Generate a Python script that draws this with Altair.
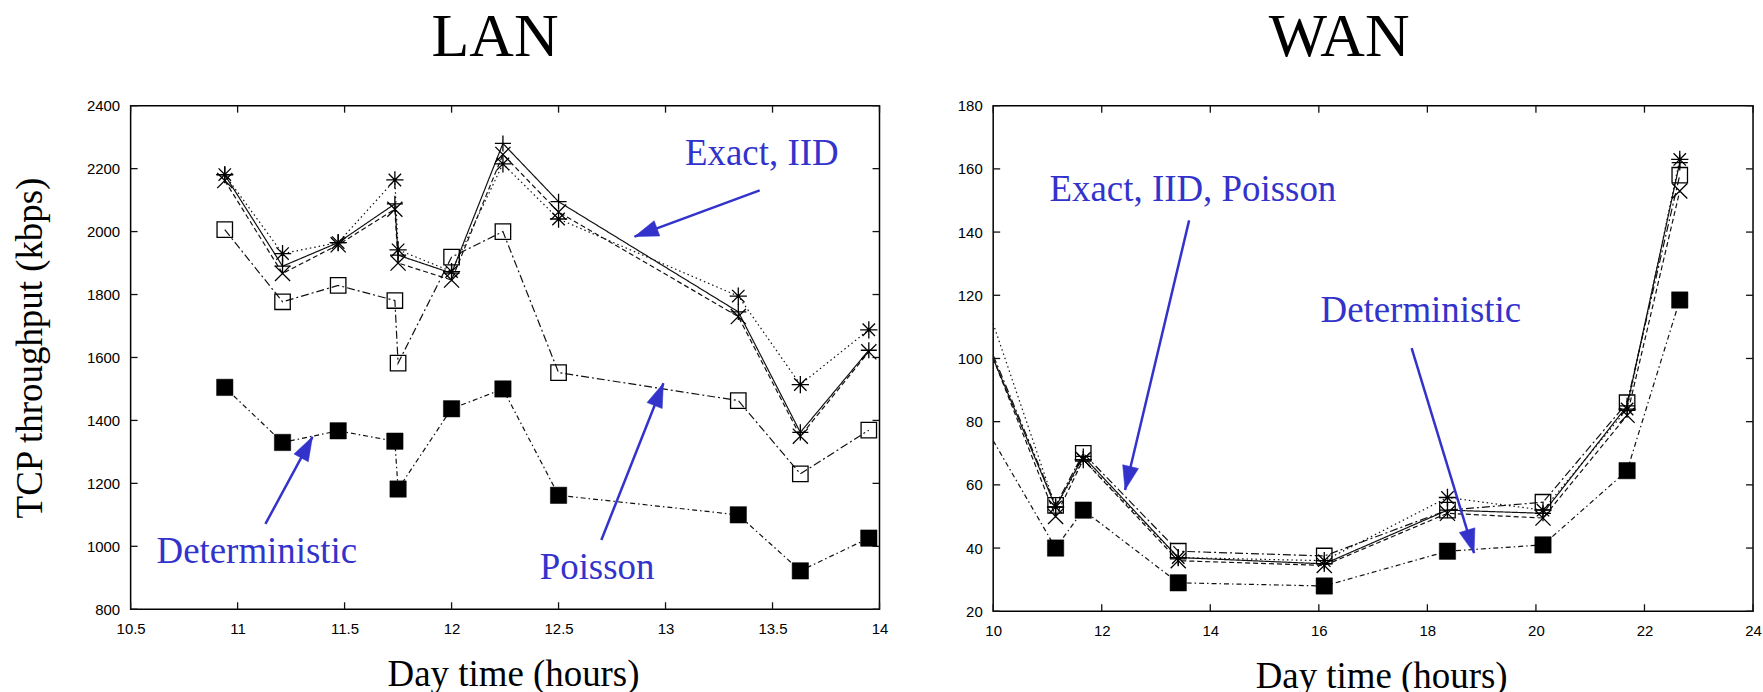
import math
import altair as alt
import pandas as pd

# ---------------- data ----------------
LAN_X = [10.94, 11.21, 11.47, 11.735, 11.75, 12.0, 12.24, 12.5, 13.34, 13.63, 13.95]
LAN_ASTERISK = [2181, 1930, 1965, 2164, 1942, 1873, 2215, 2040, 1795, 1514, 1688]
LAN_PLUS = [2180, 1890, 1965, 2088, 1925, 1868, 2280, 2095, 1745, 1362, 1623]
LAN_CROSS = [2162, 1867, 1958, 2071, 1900, 1846, 2245, 2062, 1730, 1350, 1618]
LAN_POISSON = [2006, 1777, 1829, 1781, 1582, 1919, 2000, 1552, 1463, 1230, 1369]
LAN_DETERMINISTIC = [1505, 1330, 1367, 1334, 1182, 1437, 1500, 1162, 1100, 922, 1026]

WAN_X = [10, 11.15, 11.66, 13.41, 16.1, 18.37, 20.13, 21.68, 22.65]
WAN_ASTERISK = [111, 53, 68, 37, 36, 56, 52, 84, 163]
WAN_PLUS = [100, 53, 69, 37, 35, 52, 51, 85, 162]
WAN_CROSS = [100, 50, 68, 36, 34.5, 51, 49.5, 82, 153]
WAN_POISSON = [101, 53.5, 70, 39, 37.5, 52, 54.5, 86, 158]
WAN_DETERMINISTIC = [74, 40, 52, 29, 28, 39, 41, 64.5, 118.5]

LAN_XTICKS = [10.5, 11, 11.5, 12, 12.5, 13, 13.5, 14]
LAN_YTICKS = [800, 1000, 1200, 1400, 1600, 1800, 2000, 2200, 2400]
WAN_XTICKS = [10, 12, 14, 16, 18, 20, 22, 24]
WAN_YTICKS = [20, 40, 60, 80, 100, 120, 140, 160, 180]

LAN_NOTE_TEXT = ["Exact, IID", "Poisson", "Deterministic"]
LAN_NOTE_X = [13.45, 12.68, 11.09]
LAN_NOTE_Y = [2212, 896, 947]
LAN_ARROW_X0 = [13.44, 12.70, 11.13]
LAN_ARROW_Y0 = [2131, 1020, 1071]
LAN_ARROW_X1 = [12.855, 12.99, 11.35]
LAN_ARROW_Y1 = [1984, 1518, 1348]

WAN_NOTE_TEXT = ["Exact, IID, Poisson", "Deterministic"]
WAN_NOTE_X = [13.68, 17.88]
WAN_NOTE_Y = [149.8, 111.4]
WAN_ARROW_X0 = [13.61, 17.71]
WAN_ARROW_Y0 = [143.7, 103.3]
WAN_ARROW_X1 = [12.43, 18.86]
WAN_ARROW_Y1 = [58.4, 38.4]

# ---------------- styles ----------------
BLUE = "#3333cc"
INK = "#111111"
SERIF = "Liberation Serif"
SANS = "Liberation Sans"
PLUS_PATH = "M-1,0L1,0M0,-1L0,1"
CROSS_PATH = "M-1,-1L1,1M-1,1L1,-1"
AST_PATH = "M-1,0L1,0M0,-1L0,1M-0.72,-0.72L0.72,0.72M-0.72,0.72L0.72,-0.72"
SQUARE_PATH = "M-1,-1L1,-1L1,1L-1,1Z"
HEAD_PATH = "M0,0L-0.34,1L0.34,1Z"

STYLE = {
    "asterisk": dict(dash=[1.5, 3], shape=AST_PATH, size=300, filled=False),
    "plus": dict(dash=[1, 0], shape=PLUS_PATH, size=260, filled=False),
    "cross": dict(dash=[5, 3], shape=CROSS_PATH, size=230, filled=False),
    "poisson": dict(dash=[8, 3, 2, 3], shape=SQUARE_PATH, size=240, filled=False),
    "deterministic": dict(dash=[5, 3, 1.5, 3], shape="square", size=270, filled=True),
}

WL, HL = 751, 505
WR, HR = 762, 507


def panel(title, title_dx, xs, series, xdom, ydom, xticks, yticks, xfmt, W, H, notes, arrows, ytitle):
    xaxis = alt.Axis(values=xticks, format=xfmt, domain=False, ticks=False, grid=False,
                     labelFont=SANS, labelFontSize=15, labelColor="black", labelPadding=12,
                     labelFlush=False, labelOverlap=False,
                     title="Day time (hours)", titleFont=SERIF, titleFontSize=37,
                     titleFontWeight="normal", titleColor="black", titlePadding=20,
                     titleX=W / 2 + 8)
    yaxis_kw = dict(values=yticks, format="d", domain=False, ticks=False, grid=False,
                    labelFont=SANS, labelFontSize=15, labelColor="black", labelPadding=11,
                    labelFlush=False, labelOverlap=False)
    if ytitle:
        yaxis = alt.Axis(title=ytitle, titleFont=SERIF, titleFontSize=37,
                         titleFontWeight="normal", titleColor="black", titlePadding=37,
                         titleY=H / 2 - 10, **yaxis_kw)
    else:
        yaxis = alt.Axis(title=None, **yaxis_kw)
    X = lambda f="x": alt.X(f"{f}:Q", scale=alt.Scale(domain=xdom, nice=False, zero=False), axis=xaxis)
    Y = lambda f="y": alt.Y(f"{f}:Q", scale=alt.Scale(domain=ydom, nice=False, zero=False), axis=yaxis)

    layers = []
    # inward tick marks on all four sides
    ydf = pd.DataFrame({"y": yticks})
    xdf = pd.DataFrame({"x": xticks})
    tk = 7
    layers.append(alt.Chart(ydf).mark_rule(color=INK, strokeWidth=1.3).encode(y=Y(), x=alt.value(0), x2=alt.value(tk)))
    layers.append(alt.Chart(ydf).mark_rule(color=INK, strokeWidth=1.3).encode(y=Y(), x=alt.value(W - tk), x2=alt.value(W)))
    layers.append(alt.Chart(xdf).mark_rule(color=INK, strokeWidth=1.3).encode(x=X(), y=alt.value(H - tk), y2=alt.value(H)))
    layers.append(alt.Chart(xdf).mark_rule(color=INK, strokeWidth=1.3).encode(x=X(), y=alt.value(0), y2=alt.value(tk)))

    for name, vals in series:
        st = STYLE[name]
        df = pd.DataFrame({"x": xs, "y": vals})
        layers.append(alt.Chart(df).mark_line(color=INK, strokeWidth=1.2, strokeDash=st["dash"]).encode(x=X(), y=Y()))
    for name, vals in series:
        st = STYLE[name]
        df = pd.DataFrame({"x": xs, "y": vals})
        df = df[df["x"] > xdom[0]]
        if st["filled"]:
            m = alt.Chart(df).mark_point(shape=st["shape"], filled=True, fill="black", stroke="black",
                                         strokeWidth=0.5, size=st["size"], opacity=1)
        else:
            m = alt.Chart(df).mark_point(shape=st["shape"], filled=False, stroke="black",
                                         strokeWidth=1.3, size=st["size"], opacity=1)
        layers.append(m.encode(x=X(), y=Y()))

    # annotations
    ndf = pd.DataFrame({"x": notes[1], "y": notes[2], "t": notes[0]})
    layers.append(alt.Chart(ndf).mark_text(font=SERIF, fontSize=37, color=BLUE, align="center",
                                           baseline="alphabetic").encode(x=X(), y=Y(), text="t:N"))
    sx = W / (xdom[1] - xdom[0])
    sy = H / (ydom[1] - ydom[0])
    x0, y0, x1, y1 = arrows
    angs = []
    for a, b, c, d in zip(x0, y0, x1, y1):
        dxp = (c - a) * sx
        dyp = -(d - b) * sy
        angs.append(math.degrees(math.atan2(dxp, -dyp)) % 360)
    adf = pd.DataFrame({"x": x0, "y": y0, "x2": x1, "y2": y1, "ang": angs})
    layers.append(alt.Chart(adf).mark_rule(color=BLUE, strokeWidth=2.5).encode(
        x=X(), y=Y(), x2="x2:Q", y2="y2:Q"))
    hdf = pd.DataFrame({"x": x1, "y": y1, "ang": angs})
    layers.append(alt.Chart(hdf).mark_point(shape=HEAD_PATH, filled=True, fill=BLUE, stroke=BLUE,
                                            strokeWidth=0.5, size=2304, opacity=1).encode(
        x=X(), y=Y(), angle=alt.Angle("ang:Q", scale=None)))

    return alt.layer(*layers).properties(
        width=W, height=H,
        title=alt.TitleParams(text=title, font=SERIF, fontSize=62, fontWeight="normal", color="black",
                              frame="group", anchor="middle", dx=title_dx, offset=30),
    )


lan = panel("LAN", -10, LAN_X,
            [("asterisk", LAN_ASTERISK), ("plus", LAN_PLUS), ("cross", LAN_CROSS),
             ("poisson", LAN_POISSON), ("deterministic", LAN_DETERMINISTIC)],
            [10.5, 14], [800, 2400], LAN_XTICKS, LAN_YTICKS, "~g", WL, HL,
            (LAN_NOTE_TEXT, LAN_NOTE_X, LAN_NOTE_Y),
            (LAN_ARROW_X0, LAN_ARROW_Y0, LAN_ARROW_X1, LAN_ARROW_Y1),
            "TCP throughput (kbps)")

wan = panel("WAN", -34, WAN_X,
            [("asterisk", WAN_ASTERISK), ("plus", WAN_PLUS), ("cross", WAN_CROSS),
             ("poisson", WAN_POISSON), ("deterministic", WAN_DETERMINISTIC)],
            [10, 24], [20, 180], WAN_XTICKS, WAN_YTICKS, "d", WR, HR,
            (WAN_NOTE_TEXT, WAN_NOTE_X, WAN_NOTE_Y),
            (WAN_ARROW_X0, WAN_ARROW_Y0, WAN_ARROW_X1, WAN_ARROW_Y1),
            None)

chart = alt.hconcat(lan, wan, spacing=67).properties(
    padding={"left": 10, "top": 4, "right": 0, "bottom": 0},
    background="white",
).configure_view(stroke="black", strokeWidth=1.5)

chart.save("out.html", embed_options={"renderer": "svg", "actions": False})
